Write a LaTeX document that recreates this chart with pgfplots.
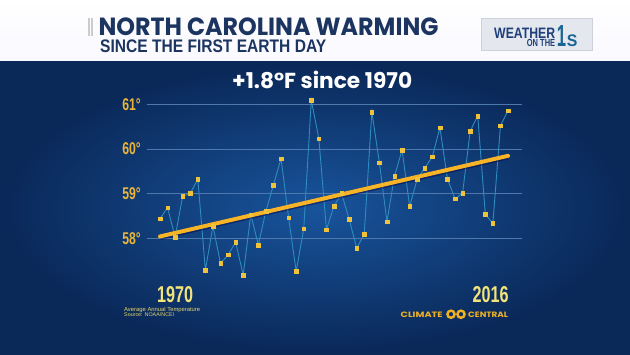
\documentclass[border=0pt]{standalone}
\usepackage{pgfplots}
\pgfplotsset{compat=1.18}
\usepackage{fontspec}
\setmainfont{Liberation Sans}
\newfontfamily\poppins{Poppins}
\newfontfamily\cond[FakeStretch=0.72]{Liberation Sans}
\definecolor{navy}{HTML}{1C3560}
\definecolor{wblue}{HTML}{1F3F7A}
\definecolor{gold}{HTML}{E8B43A}
\definecolor{trendc}{HTML}{F6B426}
\definecolor{markc}{HTML}{F0C23A}
\definecolor{tealc}{HTML}{2F8CC0}
\definecolor{gridc}{HTML}{4F78AD}
\definecolor{paley}{HTML}{F2E47A}
\definecolor{smally}{HTML}{E6D46A}
\definecolor{ccorange}{HTML}{F0B020}
\begin{document}
\begin{tikzpicture}[x=1pt,y=1pt]
\useasboundingbox (0,0) rectangle (630,354);
\clip (0,0) rectangle (630,354);
% backgrounds
\shade[top color=white, bottom color=white!80!blue!12] (0,292) rectangle (630,354);
\shade[inner color={rgb,255:red,24;green,84;blue,156}, outer color={rgb,255:red,10;green,40;blue,88}] (0,0) rectangle (630,292);
% header
\fill[black!20] (88,318) rectangle (89.6,336);
\fill[black!20] (91,318) rectangle (92.6,336);
\node[anchor=base west, inner sep=0, text=navy] at (98.3,318) {\resizebox{340pt}{17.7pt}{\poppins\bfseries NORTH CAROLINA WARMING}};
\node[anchor=base west, inner sep=0, text=navy] at (100,301.3) {\resizebox{226pt}{12.7pt}{\bfseries SINCE THE FIRST EARTH DAY}};
% logo box
\filldraw[fill={rgb,255:red,228;green,232;blue,238}, draw={rgb,255:red,205;green,210;blue,218}] (480.7,304) rectangle (591.7,335.7);
\node[anchor=base west, inner sep=0, text=wblue] at (494,315.9) {\resizebox{61pt}{10.4pt}{\bfseries WEATHER}};
\node[anchor=base west, inner sep=0, text=wblue] at (526.7,307.3) {\resizebox{28.3pt}{7.2pt}{\bfseries ON THE}};
\node[anchor=base west, inner sep=0, text=wblue!80!cyan] at (556.7,307.3) {\resizebox{9.3pt}{21pt}{\bfseries 1}};
\node[anchor=base west, inner sep=0, text=wblue!80!cyan] at (566.7,307.3) {\resizebox{10.6pt}{11.7pt}{\bfseries S}};
% subtitle in chart
\node[anchor=base west, inner sep=0, text=white] at (232,265) {\resizebox{180pt}{!}{\poppins\bfseries +1.8°F since 1970}};
% bottom labels
\node[anchor=base west, inner sep=0, text=paley] at (157,51) {\resizebox{36pt}{16pt}{\bfseries 1970}};
\node[anchor=base west, inner sep=0, text=paley] at (472.5,51) {\resizebox{36pt}{16pt}{\bfseries 2016}};
\node[anchor=base west, inner sep=0, text=smally] at (124,42) {\resizebox{76pt}{!}{\fontsize{5}{6}\selectfont Average Annual Temperature}};
\node[anchor=base west, inner sep=0, text=smally] at (124,37.2) {\resizebox{50pt}{!}{\fontsize{5}{6}\selectfont Source: NOAA/NCEI}};
\node[anchor=base west, inner sep=0, text=ccorange] at (400.5,37) {\resizebox{42pt}{5.5pt}{\poppins\bfseries CLIMATE}};
\node[anchor=base west, inner sep=0, text=ccorange] at (468,37) {\resizebox{40pt}{5.5pt}{\poppins\bfseries CENTRAL}};
\draw[ccorange, line width=2.4pt] (451,39.8) circle (3.6);
\draw[ccorange, line width=2.4pt] (461,39.8) circle (3.6);
\begin{axis}[
  at={(146.7pt,70.5pt)}, anchor=south west, scale only axis,
  width=375.3pt, height=192.64pt,
  xmin=1968.242, xmax=2017.851, ymin=57, ymax=61.3,
  axis line style={draw=none}, xtick=\empty,
  ytick={58,59,60,61}, yticklabels={58°,59°,60°,61°},
  major tick length=0pt,
  ymajorgrids, grid style={gridc, line width=0.8pt},
  yticklabel style={font=\cond\bfseries\fontsize{17}{17}\selectfont, text=gold, inner sep=0pt, xshift=-5.7pt},
  clip=false,
]
\addplot[tealc, line width=0.9pt, mark=none] coordinates {
(1970,58.45) (1971,58.69) (1972,58.04) (1973,58.95) (1974,59.01) (1975,59.33)
(1976,57.30) (1977,58.28) (1978,57.45) (1979,57.64) (1980,57.92) (1981,57.19)
(1982,58.54) (1983,57.86) (1984,58.62) (1985,59.20) (1986,59.79) (1987,58.47)
(1988,57.27) (1989,58.22) (1990,61.09) (1991,60.23) (1992,58.20) (1993,58.73)
(1994,59.01) (1995,58.44) (1996,57.79) (1997,58.10) (1998,60.83) (1999,59.70)
(2000,58.38) (2001,59.40) (2002,59.98) (2003,58.72) (2004,59.33) (2005,59.58)
(2006,59.83) (2007,60.48) (2008,59.33) (2009,58.89) (2010,59.02) (2011,60.40)
(2012,60.74) (2013,58.55) (2014,58.34) (2015,60.52) (2016,60.86)};
\addplot[black!70!blue, opacity=0.45, line width=5.5pt, mark=none, transform canvas={yshift=-0.8pt}] coordinates {(1970,58.05) (2016,59.85)};
\addplot[trendc, line width=4pt, mark=none, line cap=round] coordinates {(1970,58.05) (2016,59.85)};
\addplot[markc, only marks, mark=square*, mark size=1.8pt] coordinates {
(1970,58.45) (1971,58.69) (1972,58.04) (1973,58.95) (1974,59.01) (1975,59.33)
(1976,57.30) (1977,58.28) (1978,57.45) (1979,57.64) (1980,57.92) (1981,57.19)
(1982,58.54) (1983,57.86) (1984,58.62) (1985,59.20) (1986,59.79) (1987,58.47)
(1988,57.27) (1989,58.22) (1990,61.09) (1991,60.23) (1992,58.20) (1993,58.73)
(1994,59.01) (1995,58.44) (1996,57.79) (1997,58.10) (1998,60.83) (1999,59.70)
(2000,58.38) (2001,59.40) (2002,59.98) (2003,58.72) (2004,59.33) (2005,59.58)
(2006,59.83) (2007,60.48) (2008,59.33) (2009,58.89) (2010,59.02) (2011,60.40)
(2012,60.74) (2013,58.55) (2014,58.34) (2015,60.52) (2016,60.86)};
\end{axis}
\end{tikzpicture}
\end{document}
